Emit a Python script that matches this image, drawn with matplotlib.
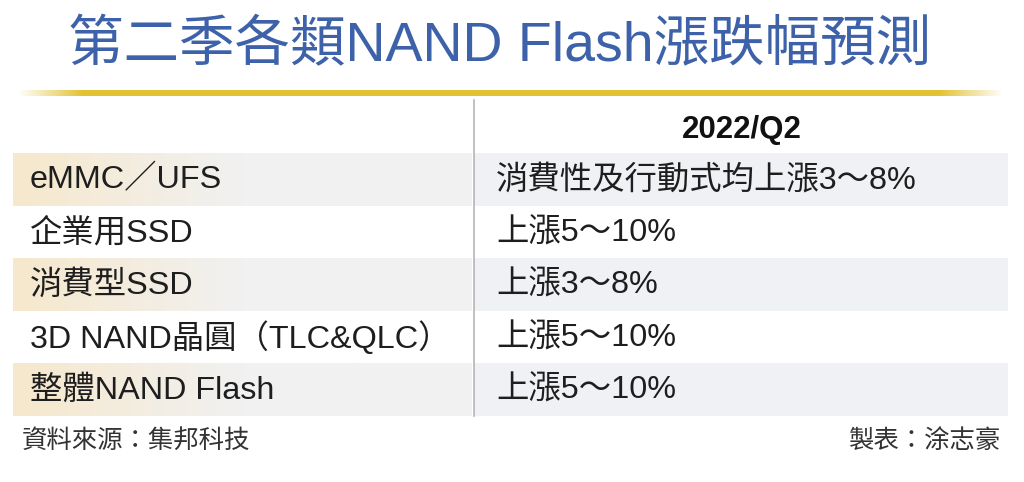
"""
第二季各類NAND Flash漲跌幅預測 - tableau reproduit avec matplotlib
"""

import numpy as np
import matplotlib
matplotlib.use('Agg')
import matplotlib.pyplot as plt
from matplotlib.colors import to_rgb

# Données du tableau
titre = '第二季各類NAND Flash漲跌幅預測'
entete = '2022/Q2'
categories = ['eMMC／UFS', '企業用SSD', '消費型SSD', '3D NAND晶圓（TLC&QLC）', '整體NAND Flash']
previsions = ['消費性及行動式均上漲3～8%', '上漲5～10%', '上漲3～8%', '上漲5～10%', '上漲5～10%']
source = '資料來源：集邦科技'
auteur = '製表：涂志豪'

FAM = ['Liberation Sans', 'Noto Sans CJK TC', 'DejaVu Sans']
plt.rcParams['font.family'] = FAM

W, H = 1024, 482
fig = plt.figure(figsize=(W / 100, H / 100), dpi=100)
ax = fig.add_axes([0, 0, 1, 1])
ax.set_xlim(0, W)
ax.set_ylim(H, 0)
ax.axis('off')

# Titre
ax.text(500, 47, titre, color='#3d62a9', fontsize=40, ha='center', va='center', family=FAM)

# Ligne dorée avec bords estompés
n = 600
alpha = np.ones(n)
ramp = 40
alpha[:ramp] = np.linspace(0, 1, ramp)
alpha[-ramp:] = np.linspace(1, 0, ramp)
gold = np.zeros((1, n, 4))
gold[..., :3] = to_rgb('#e2c232')
gold[..., 3] = alpha
ax.imshow(gold, extent=(18, 1004, 96, 90), aspect='auto', interpolation='bilinear', zorder=2)

# Lignes du tableau
y0 = 153
h = 52.6
x_gauche, x_sep, x_droite = 13, 474, 1008

beige = np.array(to_rgb('#f6e8cc'))
gris_g = np.array(to_rgb('#f1f1f1'))
gris_d = to_rgb('#eff1f4')
t = np.clip(np.linspace(0, 1, 300) / 0.5, 0, 1)[:, None]
grad = beige * (1 - t) + gris_g * t
grad = grad[None, :, :]

for i, (cat, val) in enumerate(zip(categories, previsions)):
    top = y0 + i * h
    if i % 2 == 0:
        ax.imshow(grad, extent=(x_gauche, x_sep - 2, top + h, top), aspect='auto',
                  interpolation='bilinear', zorder=1)
        ax.add_patch(plt.Rectangle((x_sep, top), x_droite - x_sep, h, color=gris_d, lw=0, zorder=1))
    yc = top + h / 2 + 1
    ax.text(30, yc, cat, fontsize=23.3, color='#1e1e1e', ha='left', va='center', family=FAM, zorder=3)
    ax.text(496, yc, val, fontsize=23.3, color='#1e1e1e', ha='left', va='center', family=FAM, zorder=3)

# En-tête
ax.text(742, 130, entete, fontsize=22.5, fontweight='bold', color='#111111',
        ha='center', va='center', family=FAM)

# Séparateur vertical
ax.plot([x_sep, x_sep], [100, y0 + 5 * h], color='#b5b5b5', lw=1.2, zorder=2)

# Pied de page
ax.text(22, 441, source, fontsize=18.3, color='#333333', ha='left', va='center', family=FAM)
ax.text(1000, 441, auteur, fontsize=18.3, color='#333333', ha='right', va='center', family=FAM)

ax.set_xlim(0, W)
ax.set_ylim(H, 0)
fig.savefig('out.png', dpi=100, facecolor='white')
plt.close(fig)
